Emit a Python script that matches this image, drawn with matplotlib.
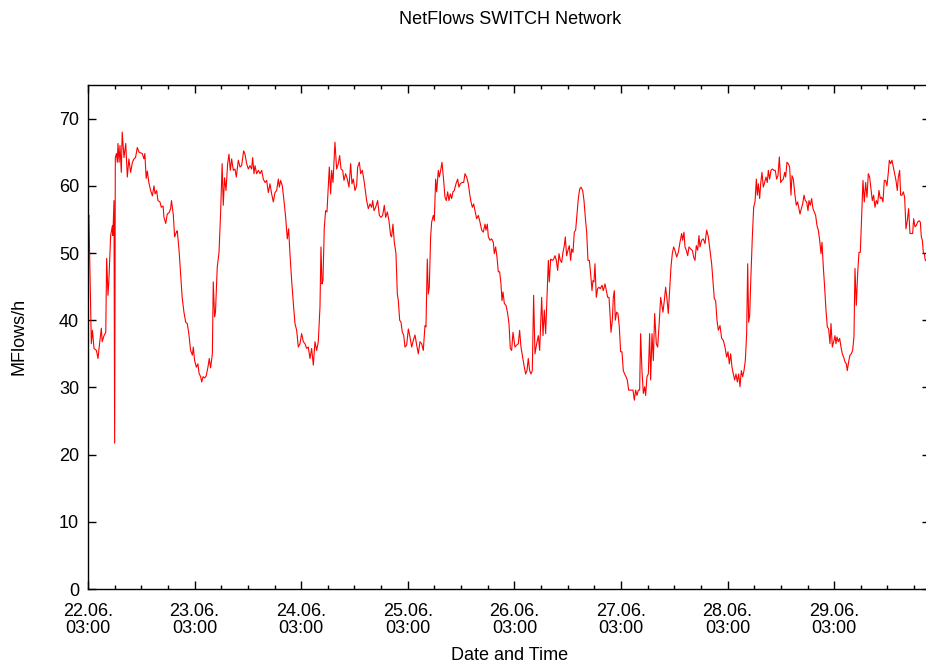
import numpy as np
import matplotlib
matplotlib.use("Agg")
import matplotlib.pyplot as plt
from matplotlib.ticker import MultipleLocator

plt.rcParams["font.family"] = ["Liberation Sans", "DejaVu Sans"]
plt.rcParams["font.size"] = 13

title = "NetFlows SWITCH Network"
x_title = "Date and Time"
y_title = "MFlows/h"

# hours since 22.06. 03:00 and flows per hour
samples = [
    (0.0, 55.0), (0.2, 55.6), (0.75, 36.5), (1.0, 38.5), (1.35, 35.8), (1.9, 35.5), (2.25, 34.3),
    (2.6, 36.5), (3.0, 38.8), (3.2, 36.8), (3.6, 37.7), (4.0, 38.2), (4.2, 49.2), (4.5, 43.7),
    (4.7, 45.9), (5.1, 52.6), (5.5, 54.1), (5.6, 52.6), (5.85, 57.8), (6.0, 21.7), (6.15, 64.2),
    (6.4, 64.8), (6.6, 63.5), (6.75, 66.3), (7.0, 63.5), (7.2, 66.0), (7.5, 62.0), (7.7, 68.0),
    (8.1, 64.2), (8.5, 66.3), (8.85, 61.3), (9.2, 64.0), (9.6, 62.0), (10.0, 63.5), (10.35, 64.0),
    (10.7, 64.2), (11.1, 65.7), (11.5, 65.0), (12.2, 64.8), (12.6, 64.0), (12.8, 64.8), (13.1, 61.1),
    (13.35, 62.2), (13.7, 60.5), (14.1, 59.3), (14.5, 58.5), (14.85, 60.0), (15.1, 58.8), (15.45, 59.3),
    (15.75, 57.8), (16.2, 57.6), (16.5, 56.8), (16.9, 57.0), (17.1, 55.3), (17.5, 54.4), (17.85, 55.8),
    (18.25, 56.0), (18.6, 56.6), (18.8, 57.8), (19.2, 55.7), (19.5, 52.4), (19.9, 53.1), (20.1, 53.3),
    (20.5, 50.4), (20.85, 47.0), (21.2, 43.4), (21.6, 41.2), (22.0, 39.7), (22.35, 39.5), (22.7, 38.0),
    (23.1, 35.5), (23.5, 34.8), (23.7, 36.0), (24.0, 34.0), (24.4, 33.0), (24.75, 33.5), (25.0, 32.1),
    (25.35, 31.6), (25.6, 30.8), (25.9, 31.6), (26.25, 31.4), (26.6, 31.7), (27.0, 33.0), (27.3, 34.3),
    (27.6, 32.9), (28.0, 35.0), (28.2, 45.7), (28.5, 40.5), (28.7, 41.2), (29.1, 47.9), (29.5, 50.1),
    (29.85, 55.9), (30.2, 63.3), (30.45, 57.1), (30.75, 61.2), (31.07, 59.3), (31.44, 63.3), (31.74, 64.7),
    (32.04, 62.3), (32.34, 64.0), (32.72, 62.3), (33.09, 62.5), (33.39, 61.3), (33.84, 63.8), (34.22, 62.8),
    (34.59, 63.0), (35.04, 65.2), (35.34, 64.7), (35.72, 63.3), (36.09, 62.5), (36.47, 63.0), (36.84, 62.5),
    (37.07, 64.2), (37.37, 61.8), (37.6, 63.0), (37.97, 61.8), (38.35, 62.3), (38.72, 61.8), (39.1, 62.3),
    (39.47, 61.0), (39.85, 60.5), (40.22, 60.8), (40.6, 59.0), (40.97, 60.3), (41.35, 58.8), (41.72, 57.6),
    (42.1, 59.0), (42.47, 59.3), (42.85, 61.0), (43.07, 59.8), (43.37, 60.8), (43.75, 60.0), (44.12, 57.8),
    (44.5, 55.3), (44.87, 52.1), (45.17, 53.6), (45.47, 49.9), (45.85, 45.9), (46.23, 42.5), (46.6, 39.5),
    (46.98, 38.5), (47.35, 36.0), (47.73, 36.5), (48.1, 38.0), (48.48, 36.8), (48.85, 36.5), (49.23, 35.8),
    (49.6, 36.0), (49.98, 34.3), (50.35, 35.8), (50.73, 33.3), (51.1, 36.8), (51.48, 35.5), (51.85, 36.8),
    (52.23, 42.0), (52.45, 50.9), (52.68, 45.4), (52.9, 45.9), (53.2, 53.8), (53.5, 56.3), (53.8, 56.1),
    (54.1, 59.8), (54.33, 62.8), (54.63, 58.8), (54.86, 62.3), (55.16, 60.5), (55.6, 66.5), (55.98, 62.5),
    (56.36, 63.3), (56.66, 64.5), (56.96, 62.5), (57.33, 62.3), (57.63, 60.8), (58.01, 61.8), (58.38, 61.0),
    (58.76, 59.8), (59.13, 63.3), (59.43, 60.3), (59.73, 61.0), (60.11, 59.3), (60.48, 60.0), (60.71, 62.8),
    (61.09, 63.5), (61.39, 61.8), (61.76, 62.3), (62.14, 60.8), (62.74, 57.8), (63.11, 56.6), (63.49, 57.3),
    (63.86, 56.8), (64.09, 57.8), (64.39, 56.3), (64.76, 56.8), (65.21, 57.8), (65.59, 55.6), (65.96, 55.3),
    (66.34, 55.6), (66.71, 57.1), (67.01, 55.3), (67.39, 56.1), (67.76, 54.8), (68.14, 52.6), (68.36, 52.4),
    (68.66, 54.3), (68.96, 51.6), (69.34, 49.9), (69.64, 43.9), (69.87, 42.9), (70.17, 40.0), (70.47, 39.7),
    (70.77, 38.2), (71.07, 37.8), (71.37, 36.0), (71.74, 36.3), (72.12, 38.7), (72.49, 37.5), (72.87, 36.0),
    (73.24, 37.0), (73.62, 37.8), (74.0, 36.3), (74.37, 35.0), (74.74, 36.8), (75.12, 36.5), (75.49, 35.5),
    (75.87, 39.2), (76.09, 39.0), (76.39, 49.1), (76.62, 43.9), (76.84, 44.9), (77.14, 52.4), (77.37, 54.6),
    (77.75, 55.6), (77.97, 54.8), (78.27, 61.0), (78.5, 59.1), (78.87, 62.3), (79.1, 61.3), (79.4, 62.3),
    (79.7, 63.5), (80.07, 60.8), (80.37, 58.3), (80.67, 57.8), (80.97, 59.1), (81.27, 57.8), (81.57, 58.8),
    (81.87, 58.1), (82.17, 59.1), (82.47, 59.3), (82.85, 60.3), (83.22, 61.0), (83.52, 59.8), (83.82, 60.3),
    (84.2, 60.5), (84.58, 60.5), (84.88, 61.8), (85.25, 61.3), (85.63, 60.3), (85.93, 58.8), (86.23, 57.6),
    (86.53, 56.8), (86.83, 57.3), (87.13, 56.3), (87.5, 55.1), (87.88, 55.6), (88.25, 54.6), (88.63, 53.4),
    (89.0, 53.1), (89.38, 54.3), (89.6, 53.4), (89.9, 54.3), (90.13, 52.4), (90.5, 51.9), (90.88, 52.1),
    (91.25, 51.6), (91.48, 49.9), (91.78, 50.9), (92.08, 49.4), (92.38, 47.2), (92.68, 47.2), (92.98, 45.4),
    (93.2, 42.9), (93.43, 44.2), (93.73, 42.5), (94.11, 42.2), (94.48, 41.0), (94.78, 39.5), (95.08, 35.8),
    (95.38, 35.5), (95.68, 38.2), (96.13, 36.0), (96.51, 36.3), (96.88, 36.5), (97.18, 38.5), (97.48, 36.0),
    (97.86, 34.5), (98.23, 33.0), (98.53, 32.0), (98.83, 32.5), (99.13, 34.3), (99.43, 32.5), (99.73, 32.0),
    (100.03, 32.5), (100.33, 43.7), (100.63, 35.0), (101.01, 36.5), (101.39, 37.7), (101.69, 35.5),
    (102.14, 43.4), (102.44, 37.7), (102.74, 41.5), (103.04, 38.0), (103.34, 43.4), (103.64, 48.9),
    (103.86, 45.7), (104.16, 49.1), (104.54, 48.9), (104.84, 49.1), (105.14, 49.6), (105.44, 48.9),
    (105.74, 47.4), (106.04, 49.9), (106.34, 48.9), (106.64, 48.6), (106.94, 50.1), (107.24, 51.1),
    (107.46, 52.4), (107.76, 49.6), (108.06, 50.4), (108.36, 51.1), (108.66, 48.9), (108.89, 50.6),
    (109.19, 50.1), (109.49, 53.1), (109.79, 53.4), (110.09, 55.8), (110.39, 58.1), (110.69, 59.5),
    (110.99, 59.8), (111.37, 59.3), (111.67, 57.8), (111.97, 55.3), (112.27, 53.1), (112.57, 48.9),
    (112.87, 48.9), (113.17, 46.9), (113.47, 44.4), (113.69, 45.9), (113.92, 45.7), (114.14, 48.4),
    (114.44, 43.4), (114.74, 44.7), (115.04, 44.9), (115.34, 44.7), (115.72, 45.2), (116.02, 44.4),
    (116.4, 45.4), (116.7, 44.4), (117.0, 43.4), (117.3, 43.4), (117.52, 41.0), (117.75, 38.2),
    (118.05, 40.0), (118.27, 43.4), (118.5, 44.4), (118.72, 40.0), (119.02, 41.2), (119.32, 41.0),
    (119.62, 39.0), (119.92, 35.3), (120.22, 35.3), (120.52, 32.5), (120.82, 32.0), (121.12, 31.6),
    (121.42, 31.1), (121.72, 29.6), (122.02, 29.6), (122.4, 29.6), (122.7, 29.6), (123.0, 28.1),
    (123.3, 29.6), (123.6, 28.8), (123.9, 29.6), (124.2, 29.6), (124.42, 38.0), (124.72, 32.5),
    (125.03, 29.1), (125.33, 30.1), (125.55, 28.8), (125.85, 31.6), (126.15, 32.0), (126.45, 38.0),
    (126.68, 31.1), (126.98, 38.0), (127.28, 34.0), (127.58, 41.0), (127.95, 36.5), (128.25, 36.0),
    (128.55, 39.0), (128.93, 43.4), (129.15, 42.5), (129.45, 41.2), (129.75, 42.9), (130.05, 44.9),
    (130.35, 43.2), (130.65, 41.0), (130.95, 44.4), (131.25, 47.9), (131.55, 49.9), (131.85, 50.9),
    (132.15, 50.4), (132.53, 49.4), (132.91, 50.1), (133.28, 51.6), (133.66, 52.9), (133.88, 51.9),
    (134.18, 53.1), (134.41, 50.9), (134.71, 50.4), (135.01, 49.6), (135.31, 50.9), (135.68, 50.6),
    (136.06, 50.4), (136.36, 49.4), (136.66, 48.9), (136.96, 51.1), (137.26, 50.4), (137.56, 52.6),
    (137.78, 50.9), (138.16, 51.9), (138.53, 52.1), (138.91, 51.4), (139.28, 53.4), (139.66, 52.4),
    (140.03, 50.4), (140.41, 48.4), (140.71, 45.9), (141.01, 43.2), (141.31, 42.9), (141.61, 40.0),
    (141.91, 38.5), (142.29, 39.2), (142.66, 37.3), (143.04, 37.0), (143.41, 36.0), (143.79, 34.5),
    (144.09, 35.3), (144.39, 33.5), (144.69, 35.0), (144.99, 33.0), (145.29, 32.0), (145.59, 31.1),
    (145.89, 32.0), (146.19, 30.8), (146.49, 32.0), (146.79, 30.1), (147.09, 32.5), (147.39, 31.6),
    (147.69, 32.5), (147.99, 34.0), (148.29, 38.0), (148.52, 48.4), (148.74, 39.7), (148.97, 40.7),
    (149.27, 46.9), (149.57, 52.4), (149.87, 56.8), (150.17, 57.6), (150.47, 61.0), (150.69, 58.6),
    (150.92, 60.3), (151.22, 58.1), (151.44, 60.3), (151.74, 62.0), (152.04, 59.8), (152.34, 60.5),
    (152.64, 61.3), (152.94, 60.5), (153.17, 62.3), (153.47, 61.0), (153.77, 62.3), (154.07, 62.5),
    (154.44, 62.3), (154.74, 62.3), (155.04, 61.0), (155.34, 61.5), (155.65, 64.3), (155.95, 60.5),
    (156.25, 60.8), (156.55, 61.0), (156.85, 62.0), (157.07, 61.3), (157.37, 63.5), (157.67, 63.3),
    (157.97, 62.8), (158.27, 58.6), (158.5, 61.5), (158.8, 61.0), (159.17, 58.6), (159.47, 57.1),
    (159.77, 57.6), (160.0, 56.8), (160.3, 55.8), (160.6, 56.6), (160.9, 57.3), (161.2, 58.6),
    (161.5, 57.8), (161.8, 57.6), (162.1, 56.3), (162.32, 57.8), (162.62, 57.1), (162.92, 58.1),
    (163.22, 56.6), (163.52, 56.1), (163.82, 55.6), (164.12, 54.1), (164.42, 53.4), (164.73, 51.9),
    (165.03, 49.9), (165.25, 51.6), (165.55, 47.9), (165.85, 44.9), (166.15, 41.5), (166.45, 39.0),
    (166.75, 38.7), (167.05, 36.5), (167.28, 39.5), (167.58, 36.0), (167.88, 36.8), (168.18, 37.7),
    (168.4, 36.5), (168.63, 37.5), (168.93, 36.8), (169.23, 37.3), (169.53, 36.0), (169.83, 35.0),
    (170.13, 34.5), (170.43, 33.8), (170.73, 33.5), (170.95, 32.5), (171.25, 33.8), (171.55, 34.8),
    (171.85, 35.0), (172.15, 35.5), (172.45, 37.5), (172.68, 47.7), (172.98, 42.2), (173.28, 46.9),
    (173.58, 50.1), (173.88, 50.1), (174.18, 55.3), (174.48, 60.8), (174.78, 57.6), (175.08, 60.5),
    (175.38, 58.3), (175.68, 61.8), (175.98, 61.3), (176.28, 59.5), (176.58, 57.8), (176.88, 58.6),
    (177.18, 56.8), (177.48, 57.8), (177.78, 57.3), (178.08, 59.3), (178.38, 58.1), (178.68, 58.3),
    (178.98, 57.6), (179.28, 60.8), (179.58, 60.8), (179.88, 60.0), (180.19, 62.0), (180.41, 63.8),
    (180.71, 63.3), (181.01, 63.8), (181.31, 62.8), (181.61, 61.8), (181.91, 60.8), (182.21, 59.3),
    (182.44, 61.3), (182.74, 62.3), (182.96, 58.6), (183.26, 58.6), (183.56, 59.1), (183.86, 58.3),
    (184.16, 53.6), (184.46, 54.8), (184.76, 56.6), (185.06, 52.9), (185.36, 52.9), (185.66, 52.9),
    (185.89, 55.1), (186.19, 53.9), (186.49, 54.1), (186.79, 54.6), (187.09, 54.8), (187.39, 54.6),
    (187.62, 52.4), (187.84, 51.9), (188.07, 50.1), (188.29, 49.9), (188.52, 48.9), (189.6, 48.6),
]

day_labels = ["22.06.\n03:00", "23.06.\n03:00", "24.06.\n03:00", "25.06.\n03:00",
              "26.06.\n03:00", "27.06.\n03:00", "28.06.\n03:00", "29.06.\n03:00"]
y_ticks = [0, 10, 20, 30, 40, 50, 60, 70]

hours, mflows = np.array(samples).T

W, H = 926, 668
fig = plt.figure(figsize=(W / 100, H / 100), dpi=100)
# plot box in pixels: left 88, right 930, top 85, bottom 589
ax = fig.add_axes([88 / W, (H - 589) / H, (930 - 88) / W, (589 - 85) / H])

ax.plot(hours, mflows, color="#ff0000", lw=0.8)

ax.set_xlim(0, 189.57)
ax.set_ylim(0, 75)

ax.set_xticks(np.arange(len(day_labels)) * 24)
ax.set_xticklabels(day_labels, linespacing=1.02)
ax.xaxis.set_minor_locator(MultipleLocator(6))
ax.set_yticks(y_ticks)

ax.tick_params(which="both", direction="in", top=True, right=True, width=1.0, color="black")
ax.tick_params(which="major", length=5.8)
ax.tick_params(which="minor", length=2.9)
ax.tick_params(axis="x", pad=10)
ax.tick_params(axis="y", pad=6.5)
for sp in ax.spines.values():
    sp.set_linewidth(1.0)

fig.text(510 / W, 1 - 19 / H, title, ha="center", va="center")
fig.text(510 / W, 1 - 655 / H, x_title, ha="center", va="center")
fig.text(19 / W, 1 - 336 / H, y_title, ha="center", va="center", rotation=90)

fig.savefig("out.png", dpi=100)
